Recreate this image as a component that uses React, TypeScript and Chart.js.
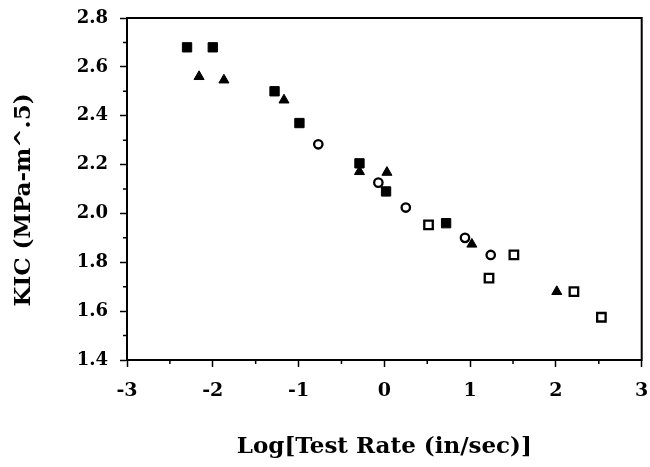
import React, { useEffect, useRef } from "react";
import { Chart, registerables } from "chart.js";

Chart.register(...registerables);

const filledSquareX = [-2.3, -2.0, -1.28, -0.99, -0.29, 0.02, 0.72];
const filledSquareY = [2.68, 2.68, 2.5, 2.37, 2.205, 2.09, 1.96];
const triangleX = [-2.16, -1.87, -1.17, -0.29, 0.03, 1.02, 2.01];
const triangleY = [2.56, 2.546, 2.464, 2.171, 2.168, 1.874, 1.68];
const openCircleX = [-0.77, -0.07, 0.25, 0.94, 1.24];
const openCircleY = [2.283, 2.126, 2.024, 1.9, 1.83];
const openSquareX = [0.515, 1.22, 1.51, 2.21, 2.53];
const openSquareY = [1.953, 1.735, 1.83, 1.68, 1.575];

const xMajorTicks = [-3, -2, -1, 0, 1, 2, 3];
const xMinorTicks = [-2.5, -1.5, -0.5, 0.5, 1.5, 2.5];
const yMinorTicks = [1.5, 1.7, 1.9, 2.1, 2.3, 2.5, 2.7];

const xTitle = "Log[Test Rate (in/sec)]";
const yTitle = "KIC (MPa-m^.5)";

const FONT = "'DejaVu Serif', serif";

function pts(xs: number[], ys: number[]) {
  return xs.map((x, i) => ({ x, y: ys[i] }));
}

const framePlugin = {
  id: "frame",
  afterDraw(chart: any) {
    const { ctx, chartArea } = chart;
    const { left, right, top, bottom } = chartArea;
    const xs = chart.scales.x;
    const ys = chart.scales.y;
    ctx.save();
    ctx.strokeStyle = "#000";
    ctx.lineWidth = 2;
    ctx.beginPath();
    ctx.moveTo(left - 1, top);
    ctx.lineTo(right, top);
    ctx.lineTo(right, bottom + 1);
    ctx.stroke();
    ctx.lineWidth = 1.5;
    ctx.beginPath();
    for (const v of yMinorTicks) {
      const py = ys.getPixelForValue(v);
      ctx.moveTo(left - 4, py);
      ctx.lineTo(left, py);
    }
    for (const v of xMinorTicks) {
      const px = xs.getPixelForValue(v);
      ctx.moveTo(px, bottom);
      ctx.lineTo(px, bottom + 4);
    }
    ctx.stroke();
    ctx.fillStyle = "#000";
    ctx.font = `bold 23px ${FONT}`;
    ctx.textAlign = "center";
    ctx.textBaseline = "middle";
    ctx.translate(24, 200);
    ctx.rotate(-Math.PI / 2);
    ctx.fillText(yTitle, 0, 0);
    ctx.restore();
  },
};

export default function App() {
  const ref = useRef<HTMLCanvasElement | null>(null);
  useEffect(() => {
    if (!ref.current) return;
    const chart = new Chart(ref.current, {
      type: "scatter",
      data: {
        datasets: [
          {
            data: pts(filledSquareX, filledSquareY),
            pointStyle: "rect",
            pointRadius: 6.6,
            backgroundColor: "#000",
            borderColor: "#000",
            borderWidth: 1,
          },
          {
            data: pts(triangleX, triangleY),
            pointStyle: "triangle",
            pointRadius: 5.8,
            backgroundColor: "#000",
            borderColor: "#000",
            borderWidth: 1,
          },
          {
            data: pts(openCircleX, openCircleY),
            pointStyle: "circle",
            pointRadius: 4.2,
            backgroundColor: "#fff",
            borderColor: "#000",
            borderWidth: 2.3,
          },
          {
            data: pts(openSquareX, openSquareY),
            pointStyle: "rect",
            pointRadius: 6,
            backgroundColor: "#fff",
            borderColor: "#000",
            borderWidth: 2.3,
          },
        ],
      },
      options: {
        animation: false,
        responsive: false,
        layout: { padding: { top: 18, right: 0, left: 0, bottom: 0 } },
        plugins: { legend: { display: false }, tooltip: { enabled: false } },
        scales: {
          x: {
            type: "linear",
            min: -3,
            max: 3,
            afterBuildTicks: (s: any) => {
              s.ticks = xMajorTicks.map((v) => ({ value: v }));
            },
            afterFit: (s: any) => {
              s.height = 107;
              s.paddingRight = 7;
              s.paddingLeft = 0;
            },
            ticks: {
              color: "#000",
              font: { family: FONT, size: 19, weight: "bold" },
              padding: 13,
              maxRotation: 0,
              callback: (v: any) => String(v),
            },
            grid: { drawOnChartArea: false, tickLength: 7, tickWidth: 1.5, tickColor: "#000" },
            border: { display: true, color: "#000", width: 2 },
            title: {
              display: true,
              text: xTitle,
              color: "#000",
              font: { family: FONT, size: 23, weight: "bold" },
              padding: { top: 0, bottom: 6 },
            },
          },
          y: {
            type: "linear",
            min: 1.4,
            max: 2.8,
            ticks: {
              stepSize: 0.2,
              color: "#000",
              font: { family: FONT, size: 18, weight: "bold" },
              padding: 12,
              callback: (v: any) => Number(v).toFixed(1),
            },
            afterFit: (s: any) => {
              s.width = 127;
              s.paddingTop = 0;
              s.paddingBottom = 0;
            },
            grid: { drawOnChartArea: false, tickLength: 7, tickWidth: 1.5, tickColor: "#000" },
            border: { display: true, color: "#000", width: 2 },
          },
        },
      },
      plugins: [framePlugin],
    });
    return () => chart.destroy();
  }, []);
  return (
    <div style={{ position: "absolute", left: 0, top: 0, width: 650, height: 467, background: "#fff" }}>
      <canvas ref={ref} width={650} height={467} style={{ width: 650, height: 467 }} />
    </div>
  );
}
